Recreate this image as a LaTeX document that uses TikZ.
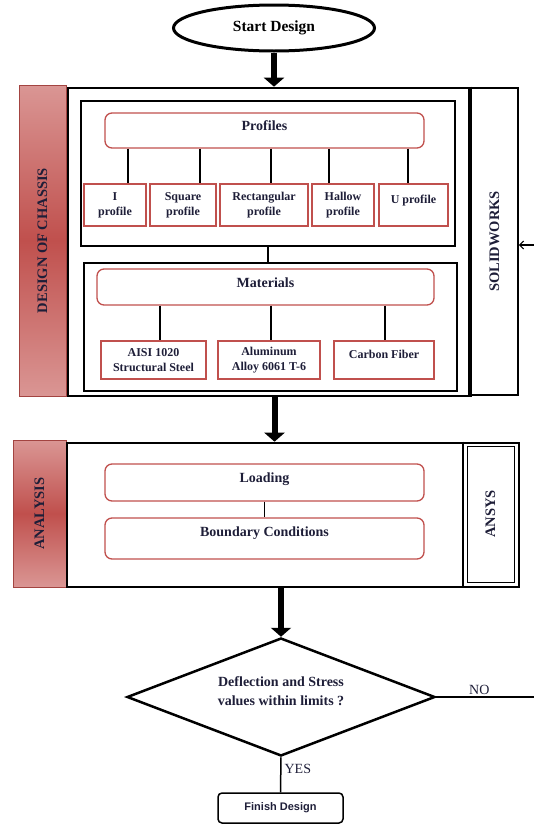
\documentclass[tikz,border=0pt]{standalone}
\usepackage{fontspec}
\setmainfont{Liberation Serif}
\newfontfamily\finishfont{Liberation Sans}
\usetikzlibrary{shapes.geometric}
\usetikzlibrary{arrows.meta}
\definecolor{barred}{HTML}{C0504D}
\definecolor{barpink}{HTML}{DA9694}
\definecolor{boxred}{HTML}{C0504D}
\definecolor{ink}{HTML}{1E1E38}

\begin{document}
\begin{tikzpicture}[x=1pt,y=-1pt,
	frame/.style={draw, line width=2.6pt},
	inbox/.style={draw, line width=1.6pt},
	hdr/.style={draw=boxred, line width=1.3pt, rounded corners=7pt, text=ink,
		font=\fontsize{14}{16}\selectfont\bfseries, text height=10pt, text depth=10pt},
	sub/.style={draw=boxred, line width=1.5pt, inner sep=0pt, text=ink, align=center,
		font=\fontsize{12}{15}\selectfont\bfseries},
	oneline/.style={text height=8pt, text depth=12pt},
	twoline/.style={},
	bar/.style={draw=barred!85!black, line width=0.8pt, top color=barpink, bottom color=barpink, middle color=barred},
	side/.style={rotate=90, text=ink, font=\fontsize{14.5}{16}\selectfont\bfseries},
	link/.style={line width=1.8pt},
	flow/.style={-{Triangle[width=20pt,length=9pt]}, line width=6pt},
	]
	\useasboundingbox (0,0) rectangle (534,825);
	% start
	\node[ellipse, draw, line width=3pt, minimum width=201, minimum height=46, inner sep=0pt,
		font=\fontsize{15.5}{18}\selectfont\bfseries] (start) at (274,28) {Start Design};
	% design of chassis
	\node[bar, minimum width=47, minimum height=311] (chassis) at (42.5,240.5) {};
	\node[side] (chassistxt) at (chassis) {DESIGN OF CHASSIS};
	\node[frame, minimum width=401, minimum height=308] (design) at (268.5,242) {};
	\draw[line width=4pt] (design.north east) -- (design.south east);
	\node[draw, line width=1.5pt, minimum width=47, minimum height=307] (solid) at (494.5,241.5) {};
	\node[side] (solidtxt) at (solid) {SOLIDWORKS};
	% profiles
	\node[inbox, minimum width=374, minimum height=145] (pbox) at (268,173.5) {};
	\node[hdr, minimum width=319, minimum height=35] (prof) at (264.5,130.5) {Profiles};
	\foreach \lbl/\cx/\w/\lx/\st [count=\ii] in {I\\profile/115/62/128/twoline, Square\\profile/183/66/200/twoline, Rectangular\\profile/264/88/271/twoline, Hallow\\profile/343/62/329/twoline, U profile/413.5/69/408/oneline}
	{
		\node[sub, \st, minimum width=\w, minimum height=42] (p\ii) at (\cx,205) {\lbl};
		\coordinate (pt\ii) at (\lx,205);
		\draw[link] (prof.south -| pt\ii) -- (p\ii.north -| pt\ii);
	}
	% materials
	\node[inbox, minimum width=373, minimum height=128] (mbox) at (270.5,327) {};
	\draw[link] (pbox.south) -- (pbox.south |- mbox.north);
	\node[hdr, minimum width=337, minimum height=36] (mat) at (265.5,287) {Materials};
	\foreach \lbl/\cx/\w/\lx/\st [count=\ii] in {AISI 1020\\Structural Steel/153.5/105/160/twoline, Aluminum\\Alloy 6061 T-6/269/102/271/twoline, Carbon Fiber/384/100/385/oneline}
	{
		\node[sub, \st, minimum width=\w, minimum height=38] (m\ii) at (\cx,360) {\lbl};
		\coordinate (mt\ii) at (\lx,360);
		\draw[link] (mat.south -| mt\ii) -- (m\ii.north -| mt\ii);
	}
	% analysis
	\node[bar, minimum width=53, minimum height=147] (anbar) at (39.5,513.5) {};
	\node[side] (antxt) at (anbar) {ANALYSIS};
	\node[frame, minimum width=452, minimum height=144] (analysis) at (293,515) {};
	\node[draw, line width=0.8pt, minimum width=47, minimum height=136] (ansys) at (490.5,514) {};
	\node[side] (ansystxt) at (ansys) {ANSYS};
	\draw[line width=2.6pt] ([xshift=-3.5pt]ansys.west |- analysis.north) -- ([xshift=-3.5pt]ansys.west |- analysis.south);
	\node[hdr, minimum width=319, minimum height=37, text depth=11pt] (load) at (264.5,482.5) {Loading};
	\node[hdr, minimum width=319, minimum height=41, text depth=14pt] (bound) at (264.5,538.5) {Boundary Conditions};
	\draw[link] (load.south) -- (bound.north);
	% decision
	\node[diamond, draw, line width=2.5pt, aspect=2.6, minimum width=308, minimum height=118, inner sep=0pt,
		align=center, text=ink, text depth=11pt, font=\fontsize{14}{19}\selectfont\bfseries] (check) at (281,697)
		{Deflection and Stress\\values within limits ?};
	\node[draw, rounded corners=4pt, line width=1.5pt, minimum width=125, minimum height=30, text=ink,
		font=\finishfont\fontsize{11}{13}\selectfont\bfseries] (finish) at (280.5,808) {Finish Design};
	% flow arrows
	\draw[flow] (start.south) -- (start.south |- design.north);
	\draw[flow] ([xshift=6pt]design.south) -- ([xshift=6pt]design.south |- analysis.north);
	\draw[flow] (check.north |- analysis.south) -- (check.north);
	\coordinate (noend) at (534,697);
	\draw[line width=1.5pt] (check.east) -- (noend) node[pos=0.44, above, inner sep=1.5pt, text=ink, font=\fontsize{14}{16}\selectfont] (no) {NO};
	\draw[line width=1.5pt] (check.south) -- (finish.north) node[pos=0.32, right, inner sep=3pt, text=ink, font=\fontsize{14}{16}\selectfont] (yes) {YES};
	\coordinate (loopin) at (534,245);
	\draw[line width=1.2pt, -{Straight Barb[length=4pt,width=8pt]}] (loopin) -- (solid.east |- loopin);
\end{tikzpicture}
\end{document}
